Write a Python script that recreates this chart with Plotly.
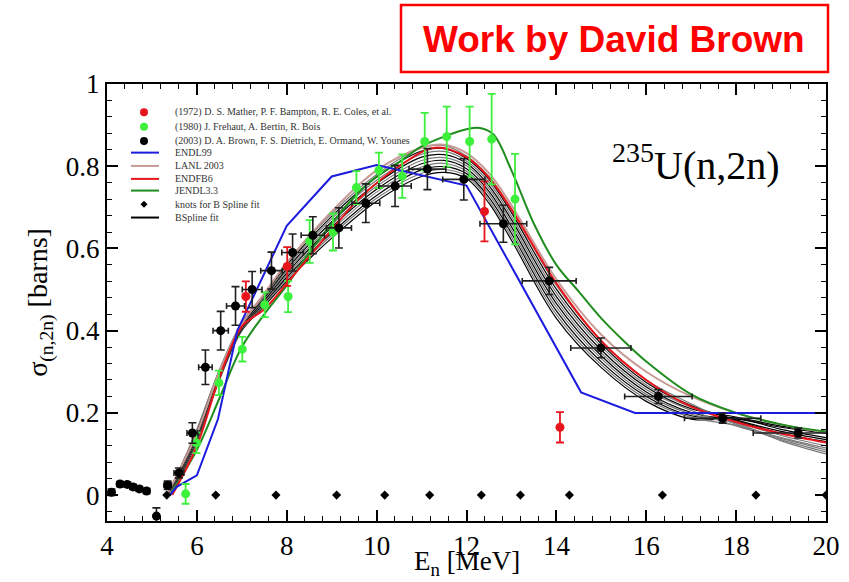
import plotly.graph_objects as go

# ---------------- measured data ----------------
# (2003) D. A. Brown, F. S. Dietrich, E. Ormand, W. Younes
E_brown = [4.10, 4.29, 4.45, 4.58, 4.72, 4.88, 5.10, 5.35, 5.60, 5.90, 6.19, 6.53, 6.86, 7.23,
           7.66, 8.13, 8.58, 9.16, 9.76, 10.41, 11.13, 11.94, 12.82, 13.84, 14.99, 16.27, 17.70, 19.38]
sig_brown = [0.007, 0.027, 0.026, 0.020, 0.015, 0.010, -0.051, 0.024, 0.054, 0.151, 0.311, 0.400, 0.460, 0.500,
             0.546, 0.590, 0.632, 0.650, 0.710, 0.752, 0.793, 0.768, 0.660, 0.521, 0.358, 0.240, 0.187, 0.151]
dE_brown = [0.05, 0.05, 0.05, 0.05, 0.05, 0.05, 0.05, 0.08, 0.11, 0.12, 0.15, 0.17, 0.20, 0.22,
            0.24, 0.24, 0.26, 0.28, 0.31, 0.36, 0.41, 0.47, 0.52, 0.60, 0.67, 0.75, 0.85, 1.00]
dsig_brown = [0.008, 0.006, 0.006, 0.006, 0.006, 0.006, 0.020, 0.010, 0.012, 0.025, 0.042, 0.047, 0.047, 0.044,
              0.045, 0.045, 0.045, 0.049, 0.047, 0.050, 0.050, 0.050, 0.045, 0.033, 0.024, 0.017, 0.012, 0.012]

# (1980) J. Frehaut, A. Bertin, R. Bois
E_frehaut = [5.75, 5.99, 6.49, 7.01, 7.51, 8.03, 8.51, 9.03, 9.55, 10.05, 10.57, 11.07, 11.56, 12.07, 12.56, 13.08]
sig_frehaut = [0.003, 0.127, 0.273, 0.355, 0.463, 0.483, 0.617, 0.640, 0.748, 0.790, 0.776, 0.860, 0.872, 0.860, 0.866, 0.720]
dsig_frehaut = [0.024, 0.025, 0.030, 0.030, 0.030, 0.038, 0.052, 0.045, 0.040, 0.043, 0.053, 0.070, 0.073, 0.085, 0.110, 0.110]

# (1972) D. S. Mather, P. F. Bampton, R. E. Coles, et al.
E_mather = [7.09, 8.01, 12.40, 14.08]
sig_mather = [0.483, 0.556, 0.690, 0.165]
dsig_mather = [0.037, 0.047, 0.073, 0.037]

# knots for the B-spline fit
E_knots = [5.33, 6.42, 7.76, 9.11, 10.18, 11.18, 12.33, 13.20, 14.29, 16.36, 18.44, 20.0]
sig_knots = [0.0] * len(E_knots)

# ---------------- evaluations ----------------
E_endl99 = [5.40, 5.55, 6.00, 6.47, 6.90, 8.00, 9.00, 10.00, 12.00, 14.55, 15.75, 20.00]
sig_endl99 = [0.000, 0.020, 0.048, 0.185, 0.400, 0.655, 0.775, 0.803, 0.753, 0.250, 0.200, 0.200]

E_lanl = [5.33, 6.0, 6.5, 7.0, 7.5, 8.0, 9.0, 10.0, 11.0, 11.5, 12.0, 12.5, 13.0, 14.0, 15.0, 16.0, 17.0, 18.0, 19.0, 20.0]
sig_lanl = [0.0, 0.15, 0.30, 0.415, 0.49, 0.565, 0.69, 0.79, 0.845, 0.852, 0.832, 0.783, 0.705, 0.525, 0.39, 0.30, 0.24, 0.20, 0.172, 0.152]

E_endfb6 = [5.45, 6.0, 6.5, 7.0, 7.5, 8.0, 8.5, 9.0, 9.6, 10.5, 11.3, 12.0, 12.5, 13.0, 14.0, 15.0, 16.0, 17.0, 18.0, 19.0, 20.0]
sig_endfb6 = [0.0, 0.12, 0.285, 0.41, 0.452, 0.515, 0.58, 0.645, 0.72, 0.80, 0.845, 0.822, 0.772, 0.695, 0.515, 0.375, 0.28, 0.215, 0.178, 0.15, 0.128]

E_jendl = [5.40, 6.0, 6.5, 7.0, 7.5, 8.0, 8.5, 9.0, 9.5, 10.0, 10.5, 11.0, 11.5, 12.0, 12.3, 12.6, 13.0,
           13.5, 14.0, 14.5, 15.0, 15.5, 16.0, 17.0, 18.0, 19.0, 20.0]
sig_jendl = [0.0, 0.11, 0.235, 0.36, 0.44, 0.51, 0.59, 0.66, 0.725, 0.775, 0.81, 0.848, 0.872, 0.89, 0.893, 0.877, 0.79,
             0.66, 0.56, 0.495, 0.43, 0.375, 0.325, 0.245, 0.20, 0.172, 0.154]

# ---------------- B-spline fit realisations ----------------
E_fit = [5.33, 5.6, 6.0, 6.5, 7.0, 7.5, 8.0, 9.0, 10.0, 11.0, 11.5, 12.0, 12.5, 13.0, 14.0, 15.0, 16.0, 17.0, 18.0, 19.0, 20.0]
bspline_fits = [
    [0, 0.040, 0.130, 0.280, 0.400, 0.460, 0.520, 0.625, 0.715, 0.775, 0.785, 0.770, 0.710, 0.620, 0.430, 0.310, 0.228, 0.185, 0.185, 0.165, 0.150],
    [0, 0.042, 0.133, 0.283, 0.402, 0.463, 0.525, 0.632, 0.722, 0.783, 0.792, 0.776, 0.717, 0.628, 0.439, 0.317, 0.234, 0.189, 0.170, 0.140, 0.115],
    [0, 0.044, 0.137, 0.286, 0.404, 0.467, 0.530, 0.638, 0.729, 0.791, 0.799, 0.782, 0.724, 0.637, 0.448, 0.324, 0.240, 0.193, 0.188, 0.160, 0.140],
    [0, 0.047, 0.140, 0.288, 0.407, 0.470, 0.535, 0.645, 0.737, 0.798, 0.807, 0.788, 0.732, 0.645, 0.457, 0.332, 0.245, 0.197, 0.175, 0.132, 0.100],
    [0, 0.049, 0.143, 0.291, 0.409, 0.473, 0.540, 0.652, 0.744, 0.806, 0.814, 0.794, 0.739, 0.653, 0.466, 0.339, 0.251, 0.201, 0.180, 0.150, 0.130],
    [0, 0.051, 0.147, 0.294, 0.411, 0.477, 0.545, 0.658, 0.751, 0.814, 0.821, 0.801, 0.746, 0.662, 0.474, 0.346, 0.257, 0.206, 0.168, 0.138, 0.110],
    [0, 0.053, 0.150, 0.297, 0.413, 0.480, 0.550, 0.665, 0.758, 0.822, 0.828, 0.807, 0.753, 0.670, 0.483, 0.353, 0.263, 0.210, 0.190, 0.168, 0.155],
    [0, 0.056, 0.153, 0.299, 0.416, 0.483, 0.555, 0.672, 0.766, 0.829, 0.836, 0.813, 0.761, 0.678, 0.492, 0.361, 0.268, 0.214, 0.178, 0.145, 0.120],
    [0, 0.058, 0.157, 0.302, 0.418, 0.487, 0.560, 0.678, 0.773, 0.837, 0.843, 0.819, 0.768, 0.687, 0.501, 0.368, 0.274, 0.218, 0.183, 0.155, 0.135],
    [0, 0.060, 0.160, 0.305, 0.420, 0.490, 0.565, 0.685, 0.780, 0.845, 0.850, 0.825, 0.775, 0.695, 0.510, 0.375, 0.280, 0.222, 0.172, 0.135, 0.105],
]
fit_colors = ["#000000", "#7a7a7a"]

# ---------------- legend entries ----------------
legend_labels = [
    "(1972) D. S. Mather, P. F. Bampton, R. E. Coles, et al.",
    "(1980) J. Frehaut, A. Bertin, R. Bois",
    "(2003) D. A. Brown, F. S. Dietrich, E. Ormand, W. Younes",
    "ENDL99",
    "LANL 2003",
    "ENDFB6",
    "JENDL3.3",
    "knots for B Spline fit",
    "BSpline fit",
]
legend_kinds = ["dot", "dot", "dot", "line", "line", "line", "line", "diamond", "line"]

RED = "#e8141b"
LIME = "#3cf03c"
BLUE = "#1c1ce0"
DKGREEN = "#1f8e1f"
LANL_C = "#c89a96"
legend_colors = [RED, LIME, "#000000", BLUE, LANL_C, RED, DKGREEN, "#000000", "#000000"]

SERIF = "Liberation Serif"

fig = go.Figure()

for i, curve in enumerate(bspline_fits):
    fig.add_trace(go.Scatter(x=E_fit, y=curve, mode="lines", line=dict(color=fit_colors[i % 2], width=1.2, shape="spline", smoothing=1.0),
                             showlegend=False, hoverinfo="skip"))

fig.add_trace(go.Scatter(x=E_lanl, y=sig_lanl, mode="lines", line=dict(color=LANL_C, width=2, shape="spline"), showlegend=False))
fig.add_trace(go.Scatter(x=E_jendl, y=sig_jendl, mode="lines", line=dict(color=DKGREEN, width=2, shape="spline"), showlegend=False))
fig.add_trace(go.Scatter(x=E_endfb6, y=sig_endfb6, mode="lines", line=dict(color=RED, width=2, shape="spline"), showlegend=False))
fig.add_trace(go.Scatter(x=E_endl99, y=sig_endl99, mode="lines", line=dict(color=BLUE, width=2), showlegend=False))

fig.add_trace(go.Scatter(x=E_knots, y=sig_knots, mode="markers", marker=dict(symbol="diamond", size=7, color="black"), showlegend=False))

fig.add_trace(go.Scatter(x=E_frehaut, y=sig_frehaut, mode="markers",
                         marker=dict(symbol="circle", size=9, color=LIME),
                         error_y=dict(type="data", array=dsig_frehaut, color=LIME, thickness=1.8, width=4),
                         showlegend=False))
fig.add_trace(go.Scatter(x=E_mather, y=sig_mather, mode="markers",
                         marker=dict(symbol="circle", size=9, color=RED),
                         error_y=dict(type="data", array=dsig_mather, color=RED, thickness=1.8, width=4),
                         showlegend=False))
fig.add_trace(go.Scatter(x=E_brown, y=sig_brown, mode="markers",
                         marker=dict(symbol="circle", size=9, color="black"),
                         error_x=dict(type="data", array=dE_brown, color="#202020", thickness=1.6, width=3),
                         error_y=dict(type="data", array=dsig_brown, color="#202020", thickness=1.6, width=4),
                         showlegend=False))

# ---------------- in-plot legend ----------------
PLOT_L, PLOT_W = 107, 719
PLOT_B, PLOT_H = 521.5, 437.5


def px_x(p):
    return (p - PLOT_L) / PLOT_W


def px_y(p):
    return (PLOT_B - p) / PLOT_H


legend_rows = [112.3, 126.7, 141.0, 152.7, 166.0, 179.0, 190.7, 204.3, 217.7]
shapes = []
annotations = []
sym_x = px_x(144)
for label, kind, color, row in zip(legend_labels, legend_kinds, legend_colors, legend_rows):
    yp = px_y(row)
    if kind == "dot":
        shapes.append(dict(type="circle", xref="paper", yref="paper", xsizemode="pixel", ysizemode="pixel",
                           xanchor=sym_x, yanchor=yp, x0=-4, x1=4, y0=-4, y1=4,
                           fillcolor=color, line=dict(color=color, width=0)))
    elif kind == "diamond":
        shapes.append(dict(type="path", xref="paper", yref="paper", xsizemode="pixel", ysizemode="pixel",
                           xanchor=sym_x, yanchor=yp, path="M -3.5,0 L 0,3.5 L 3.5,0 L 0,-3.5 Z",
                           fillcolor=color, line=dict(color=color, width=0)))
    else:
        shapes.append(dict(type="line", xref="paper", yref="paper", x0=px_x(131), x1=px_x(159), y0=yp, y1=yp,
                           line=dict(color=color, width=2)))
    annotations.append(dict(text=label, xref="paper", yref="paper", x=px_x(173), y=yp, xanchor="left", yanchor="middle",
                            showarrow=False, font=dict(family=SERIF, size=10, color="#333333")))

# reaction label
annotations.append(dict(text="<sup>235</sup>U(n,2n)", xref="paper", yref="paper", x=px_x(610), y=px_y(163),
                        xanchor="left", yanchor="middle", showarrow=False,
                        font=dict(family=SERIF, size=40, color="black")))

# x-axis title, placed below the tick labels
annotations.append(dict(text="E<sub>n</sub> [MeV]", xref="paper", yref="paper", x=0.5, y=px_y(564),
                        xanchor="center", yanchor="middle", showarrow=False,
                        font=dict(family=SERIF, size=27, color="black")))

# author box
shapes.append(dict(type="rect", xref="paper", yref="paper", x0=px_x(401), x1=px_x(828), y0=px_y(72), y1=px_y(5),
                   line=dict(color="#ff0000", width=2.5), fillcolor="white"))
annotations.append(dict(text="<b>Work by David Brown</b>", xref="paper", yref="paper", x=px_x(614), y=px_y(39),
                        xanchor="center", yanchor="middle", showarrow=False,
                        font=dict(family="Liberation Sans", size=37, color="#ff0000")))

axis_common = dict(showline=True, linecolor="black", linewidth=2, mirror="allticks", ticks="inside",
                   ticklen=11, tickwidth=1.6, tickcolor="black", showgrid=False, zeroline=False,
                   automargin=False, tickfont=dict(family=SERIF, size=27, color="black"))

fig.update_layout(
    width=849, height=582,
    margin=dict(l=107, r=23, t=84, b=61, autoexpand=False),
    paper_bgcolor="white", plot_bgcolor="white",
    showlegend=False,
    shapes=shapes, annotations=annotations,
    xaxis=dict(range=[4, 20], tick0=4, dtick=2,
               minor=dict(ticks="inside", ticklen=5, dtick=0.4, tick0=4, tickcolor="black", tickwidth=1.2),
               **axis_common),
    yaxis=dict(range=[-0.063, 1.0], tick0=0, dtick=0.2,
               minor=dict(ticks="inside", ticklen=5, dtick=0.04, tick0=0, tickcolor="black", tickwidth=1.2),
               title=dict(text="σ<sub>(n,2n)</sub> [barns]", font=dict(family=SERIF, size=28, color="black"), standoff=10),
               **axis_common),
)

fig.write_html("out.html")
